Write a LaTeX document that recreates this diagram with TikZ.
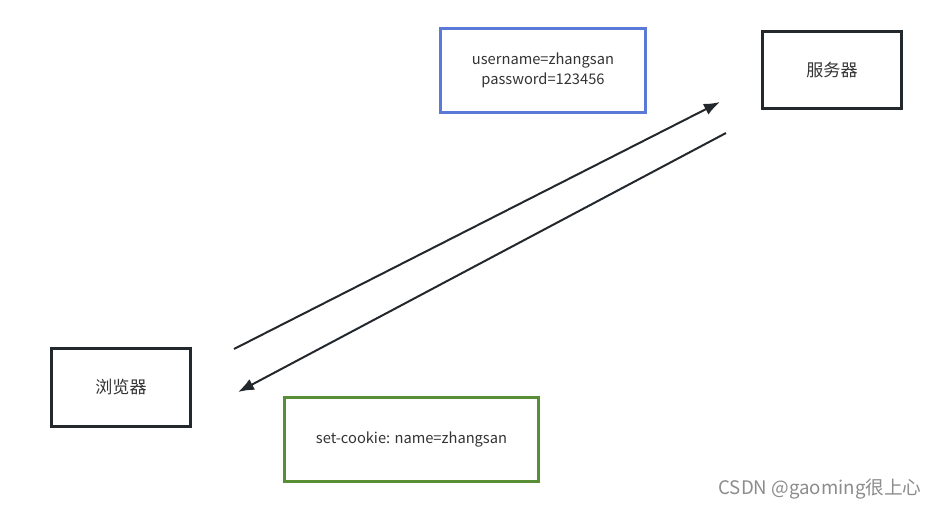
\documentclass[tikz,border=0pt]{standalone}
\usepackage{fontspec}
\setmainfont{Noto Sans CJK SC}
\usetikzlibrary{arrows.meta}

\definecolor{boxdark}{HTML}{23282D}
\definecolor{boxblue}{HTML}{5B79D6}
\definecolor{boxgreen}{HTML}{5A8E36}
\definecolor{textdark}{HTML}{333333}

\begin{document}
\begin{tikzpicture}[
    x=0.75pt, y=-0.75pt,
    endpoint/.style={
        rectangle,
        draw=boxdark,
        line width=2.25pt,
        minimum width=104.25pt,
        minimum height=58pt,
        font=\fontsize{12.8}{15}\selectfont,
        text=textdark
    },
    request/.style={
        rectangle,
        draw=boxblue,
        line width=2.25pt,
        minimum width=153.75pt,
        minimum height=63pt,
        font=\fontsize{11}{13.5}\selectfont,
        text=textdark,
        align=center
    },
    response/.style={
        rectangle,
        draw=boxgreen,
        line width=2.25pt,
        minimum width=190.5pt,
        minimum height=63pt,
        font=\fontsize{11}{13}\selectfont,
        text=textdark
    },
    flow/.style={draw=boxdark, line width=1.5pt, -{Latex[length=12pt,width=9pt]}}
]
\useasboundingbox (0,0) rectangle (939,509);

% Boxes
\node[endpoint] (server) at (832,70) {服务器};
\node[endpoint] (browser) at (121,387.5) {浏览器};
\node[request] (login) at (543,70.5) {username=zhangsan\\[1.5pt]password=123456};
\node[response] (cookie) at (411.5,439.5) {set-cookie: name=zhangsan};

% Arrow ends
\coordinate (sendA) at (234,349);
\coordinate (sendB) at (720,102);
\coordinate (backA) at (726,133);
\coordinate (backB) at (238,392);

\draw[flow] (sendA) -- (sendB);
\draw[flow] (backA) -- (backB);

% Watermark
\node[text=black!45, font=\fontsize{14}{16}\selectfont] (mark) at (820,489) {CSDN @gaoming很上心};
\end{tikzpicture}
\end{document}
